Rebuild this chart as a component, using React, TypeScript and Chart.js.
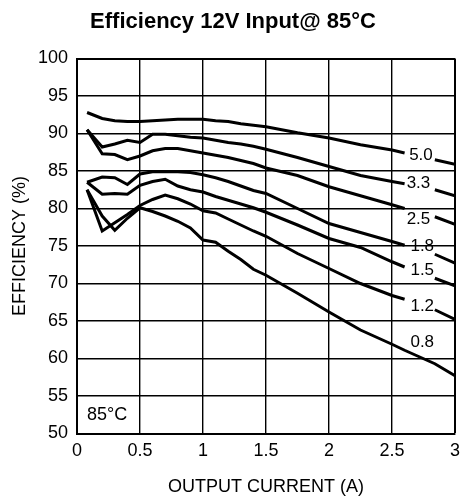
import { useEffect, useRef } from "react";
import { Chart, registerables } from "chart.js";

Chart.register(...registerables);

// Output current (A) sample points shared by all curves (2.72 = gap for the label)
const currents = [0.08, 0.2, 0.3, 0.4, 0.5, 0.6, 0.7, 0.8, 0.9, 1.0, 1.1, 1.2, 1.3, 1.4, 1.5, 1.75, 2.0, 2.25, 2.5, 2.6, 2.72, 2.84, 3.0];

// Efficiency (%) per output voltage
const eff50 = [92.8, 92.0, 91.7, 91.6, 91.6, 91.7, 91.8, 91.9, 91.9, 91.9, 91.7, 91.6, 91.3, 91.1, 90.9, 90.1, 89.4, 88.5, 87.8, 87.4, null, 86.5, 85.9];
const eff33 = [90.5, 88.2, 88.6, 89.1, 88.8, 89.9, 89.9, 89.7, 89.5, 89.4, 89.1, 88.8, 88.6, 88.3, 87.9, 86.8, 85.6, 84.4, 83.6, 83.3, null, 82.5, 81.7];
const eff25 = [90.5, 87.3, 87.2, 86.5, 87.0, 87.7, 88.0, 88.0, 87.7, 87.4, 87.1, 86.8, 86.4, 86.0, 85.4, 84.4, 82.9, 81.7, 80.5, 80.0, null, 78.9, 77.9];
const eff18 = [83.5, 84.2, 84.1, 83.2, 84.6, 84.9, 84.9, 84.9, 84.8, 84.5, 84.1, 83.6, 83.0, 82.4, 82.0, 80.0, 78.0, 76.8, 75.6, 75.1, null, 73.9, 72.7];
const eff15 = [83.5, 81.9, 82.0, 81.9, 83.1, 83.6, 83.9, 83.0, 82.5, 82.2, 81.6, 81.1, 80.6, 80.1, 79.5, 77.8, 76.0, 74.8, 72.9, 72.2, null, 70.7, 69.7];
const eff12 = [82.5, 77.0, 78.1, 79.2, 80.4, 81.2, 81.8, 81.3, 80.6, 79.7, 79.4, 78.6, 77.8, 77.0, 76.3, 74.0, 72.0, 70.0, 68.4, 67.9, null, 66.5, 65.2];
const eff08 = [82.5, 79.0, 77.1, 78.7, 80.1, 79.6, 79.0, 78.3, 77.4, 75.8, 75.5, 74.3, 73.2, 71.9, 71.1, 68.7, 66.2, 63.8, 61.9, 61.1, 60.2, 59.3, 57.7];

const seriesNames = ["5.0", "3.3", "2.5", "1.8", "1.5", "1.2", "0.8"];
const seriesValues = [eff50, eff33, eff25, eff18, eff15, eff12, eff08];
const labelX = [2.73, 2.71, 2.71, 2.74, 2.74, 2.74, 2.74];
const labelY = [87.1, 83.3, 78.5, 75.0, 71.8, 66.9, 62.2];

const titleText = "Efficiency 12V Input@ 85°C";
const xTitle = "OUTPUT CURRENT (A)";
const yTitle = "EFFICIENCY (%)";
const tempNote = "85°C";
const tempNoteX = 0.08;
const tempNoteY = 52.4;

const FONT = '"Liberation Sans", Arial, Helvetica, sans-serif';

export default function App() {
  const ref = useRef<HTMLCanvasElement | null>(null);

  useEffect(() => {
    if (!ref.current) return;
    const textPlugin = {
      id: "texts",
      afterDatasetsDraw(chart: any) {
        const { ctx, scales } = chart;
        const xs = scales.x;
        const ys = scales.y;
        ctx.save();
        ctx.fillStyle = "#000";
        ctx.font = `17px ${FONT}`;
        ctx.textAlign = "center";
        ctx.textBaseline = "middle";
        seriesNames.forEach((n, i) => {
          ctx.fillText(n, xs.getPixelForValue(labelX[i]), ys.getPixelForValue(labelY[i]));
        });
        ctx.font = `18px ${FONT}`;
        ctx.textAlign = "left";
        ctx.fillText(tempNote, xs.getPixelForValue(tempNoteX), ys.getPixelForValue(tempNoteY));
        ctx.font = `bold 22px ${FONT}`;
        ctx.textAlign = "center";
        ctx.fillText(titleText, 233, 22);
        ctx.restore();
      },
    };

    const chart = new Chart(ref.current, {
      type: "line",
      data: {
        datasets: seriesValues.map((vals, i) => ({
          label: seriesNames[i],
          data: currents.map((x, j) => ({ x, y: vals[j] })),
          borderColor: "#000",
          borderWidth: 3,
          pointRadius: 0,
          tension: 0,
          spanGaps: false,
          fill: false,
        })),
      },
      options: {
        animation: false,
        responsive: false,
        layout: { padding: { top: 58.5, right: 6, left: 0, bottom: 0 } },
        plugins: {
          legend: { display: false },
          tooltip: { enabled: false },
          title: { display: false },
        },
        scales: {
          x: {
            type: "linear",
            min: 0,
            max: 3,
            ticks: {
              stepSize: 0.5,
              color: "#000",
              padding: 7,
              font: { size: 18, family: FONT },
              maxRotation: 0,
              callback: (v: any) => String(v),
            },
            grid: {
              color: "#000",
              lineWidth: (c: any) => (c.tick && c.tick.value === 3 ? 2 : 1.4),
              drawTicks: false,
            },
            border: { display: true, color: "#000", width: 2 },
            title: { display: true, text: xTitle, color: "#000", font: { size: 18, family: FONT }, padding: { top: 0, bottom: 6 } },
            afterFit: (s: any) => {
              s.height = 70.5;
              s.paddingRight = 6;
              s.paddingLeft = 0;
            },
          },
          y: {
            min: 50,
            max: 100,
            ticks: { stepSize: 5, color: "#000", padding: 9, font: { size: 18, family: FONT } },
            grid: {
              color: "#000",
              lineWidth: (c: any) => (c.tick && c.tick.value === 100 ? 2 : 1.4),
              drawTicks: false,
            },
            border: { display: true, color: "#000", width: 2 },
            title: { display: true, text: yTitle, color: "#000", font: { size: 18, family: FONT }, padding: { top: 9, bottom: 0 } },
            afterFit: (s: any) => {
              s.width = 77;
              s.paddingTop = 0;
              s.paddingBottom = 0;
            },
          },
        },
      },
      plugins: [textPlugin],
    });
    return () => chart.destroy();
  }, []);

  return (
    <div style={{ position: "absolute", left: 0, top: 0, width: 461, height: 504, background: "#fff" }}>
      <canvas ref={ref} width={461} height={504} />
    </div>
  );
}
